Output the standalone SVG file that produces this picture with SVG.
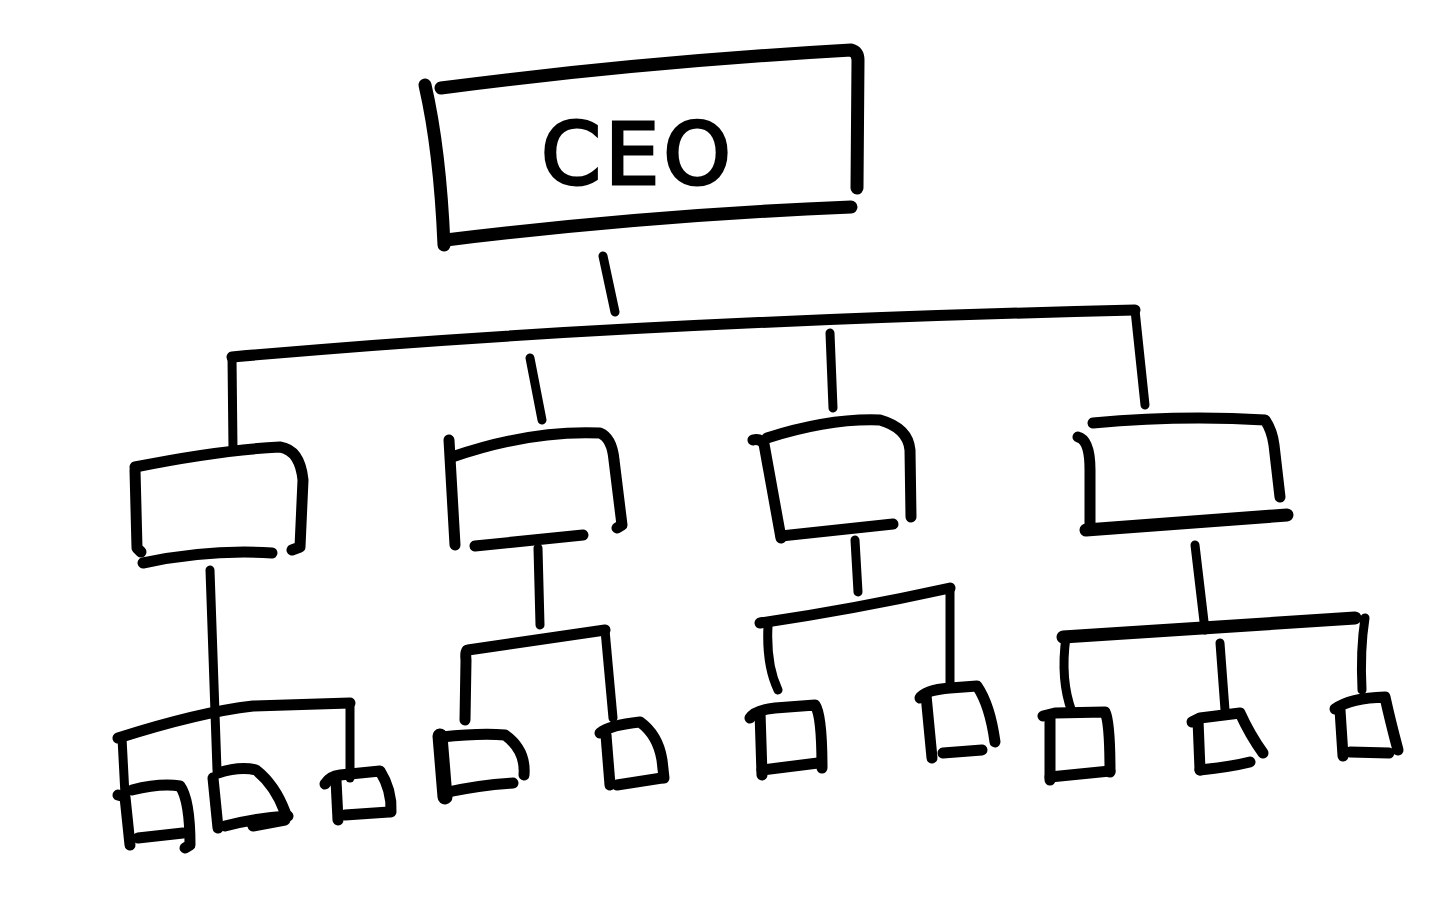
<svg xmlns="http://www.w3.org/2000/svg" width="1456" height="907" viewBox="0 0 1456 907">
<style>
.s{fill:none;stroke:#000;stroke-width:11;stroke-linecap:round;stroke-linejoin:round}
.t{fill:none;stroke:#000;stroke-width:9;stroke-linecap:round;stroke-linejoin:round}
.b{fill:none;stroke:#000;stroke-width:13;stroke-linecap:round;stroke-linejoin:round}
.lbl{font-family:"DejaVu Sans","Liberation Sans",sans-serif;font-size:86px;fill:#000;stroke:#000;stroke-width:3}
</style>
<rect width="1456" height="907" fill="#fff"/>
<g id="connectors">
<path class="t" d="M603 256 L615 312"/>
<path class="s" d="M232 357 Q620 322 1135 310"/>
<path class="t" d="M232 357 L233 450"/>
<path class="t" d="M530 358 L542 420"/>
<path class="t" d="M830 333 L833 408"/>
<path class="t" d="M1135 310 L1145 405"/>
<path class="t" d="M210 570 L217 770"/>
<path class="s" d="M118 738 Q200 712 253 706 L350 703"/>
<path class="t" d="M122 738 L125 795"/>
<path class="t" d="M350 703 L350 778"/>
<path class="t" d="M538 548 L540 625"/>
<path class="s" d="M468 650 Q465 650 466 660 L465 720 M468 650 L605 630"/>
<path class="t" d="M605 630 L613 718"/>
<path class="t" d="M855 540 L858 592"/>
<path class="s" d="M760 623 Q850 610 950 588"/>
<path class="t" d="M768 626 Q766 665 778 690"/>
<path class="t" d="M950 588 L950 685"/>
<path class="t" d="M1195 545 L1205 630"/>
<path class="b" d="M1063 637 L1355 618"/>
<path class="t" d="M1066 637 Q1060 680 1072 712"/>
<path class="t" d="M1220 643 L1225 710"/>
<path class="t" d="M1365 618 Q1360 650 1362 690"/>
</g>
<g id="ceo">
<path class="b" d="M441 88 Q640 62 851 50 Q858 52 858 60 L857 188"/>
<path class="b" d="M425 85 Q440 150 444 245"/>
<path class="b" d="M446 240 Q650 215 851 207"/>
<text class="lbl" x="638" y="184" text-anchor="middle" letter-spacing="4">CEO</text>
</g>
<g id="m1">
<path class="s" d="M135 467 Q220 450 280 447 Q300 450 303 480 L300 547 L292 550"/>
<path class="s" d="M135 470 L137 548 L141 552"/>
<path class="s" d="M143 563 Q210 549 272 553"/>
</g>
<g id="m2">
<path class="s" d="M449 440 L455 545"/>
<path class="s" d="M452 457 Q530 430 600 433 Q612 438 614 460 L622 525 L617 528"/>
<path class="s" d="M475 546 L583 535"/>
</g>
<g id="m3">
<path class="s" d="M753 440 Q760 438 764 444 L781 538"/>
<path class="s" d="M767 438 Q830 418 880 420 Q908 428 910 450 L911 517"/>
<path class="s" d="M781 536 L893 524"/>
</g>
<g id="m4">
<path class="s" d="M1093 423 Q1180 415 1265 420 Q1272 430 1274 445 L1280 497"/>
<path class="s" d="M1078 437 Q1090 440 1090 470 L1090 527"/>
<path class="b" d="M1086 530 L1287 515"/>
</g>
<g id="e1">
<path class="s" d="M118 795 L125 797 L130 845"/>
<path class="s" d="M132 790 Q160 783 180 786 Q190 800 190 845 L185 848"/>
<path class="s" d="M138 838 L183 833"/>
</g>
<g id="e2">
<path class="s" d="M213 778 L218 828"/>
<path class="s" d="M218 773 Q240 766 256 770 Q275 785 285 812"/>
<path class="s" d="M225 826 Q255 818 288 816 M253 826 L285 820"/>
</g>
<g id="e3">
<path class="s" d="M325 784 Q330 776 340 775 L380 771 Q392 790 391 812"/>
<path class="s" d="M336 780 L338 820"/>
<path class="s" d="M345 815 L389 812"/>
</g>
<g id="e4">
<path class="s" d="M440 736 L445 797" style="stroke-width:15"/>
<path class="s" d="M442 737 Q480 733 505 735 Q526 750 524 775"/>
<path class="s" d="M448 792 Q480 785 513 783"/>
</g>
<g id="e5">
<path class="s" d="M600 733 Q610 725 640 722 Q658 735 662 760 L664 778"/>
<path class="s" d="M606 735 L610 785"/>
<path class="s" d="M617 785 L662 778"/>
</g>
<g id="e6">
<path class="s" d="M750 718 Q755 710 775 708 L815 705 Q822 715 822 768"/>
<path class="s" d="M760 712 L762 775"/>
<path class="s" d="M762 770 L818 763"/>
</g>
<g id="e7">
<path class="s" d="M920 698 Q925 690 950 688 L977 686 Q990 705 995 742"/>
<path class="s" d="M926 695 L932 758"/>
<path class="s" d="M943 753 L982 750"/>
</g>
<g id="e8">
<path class="s" d="M1043 716 L1055 713 L1105 712 Q1110 722 1110 772"/>
<path class="s" d="M1050 715 L1050 780"/>
<path class="s" d="M1050 777 L1110 771"/>
</g>
<g id="e9">
<path class="s" d="M1192 722 L1200 718 L1240 713 Q1250 735 1263 753"/>
<path class="s" d="M1198 720 L1200 770"/>
<path class="s" d="M1200 770 Q1230 767 1250 762"/>
</g>
<g id="e10">
<path class="s" d="M1335 709 Q1350 698 1385 697 Q1390 720 1398 750"/>
<path class="s" d="M1340 710 L1343 756"/>
<path class="s" d="M1350 752 L1389 753"/>
</g>
</svg>
